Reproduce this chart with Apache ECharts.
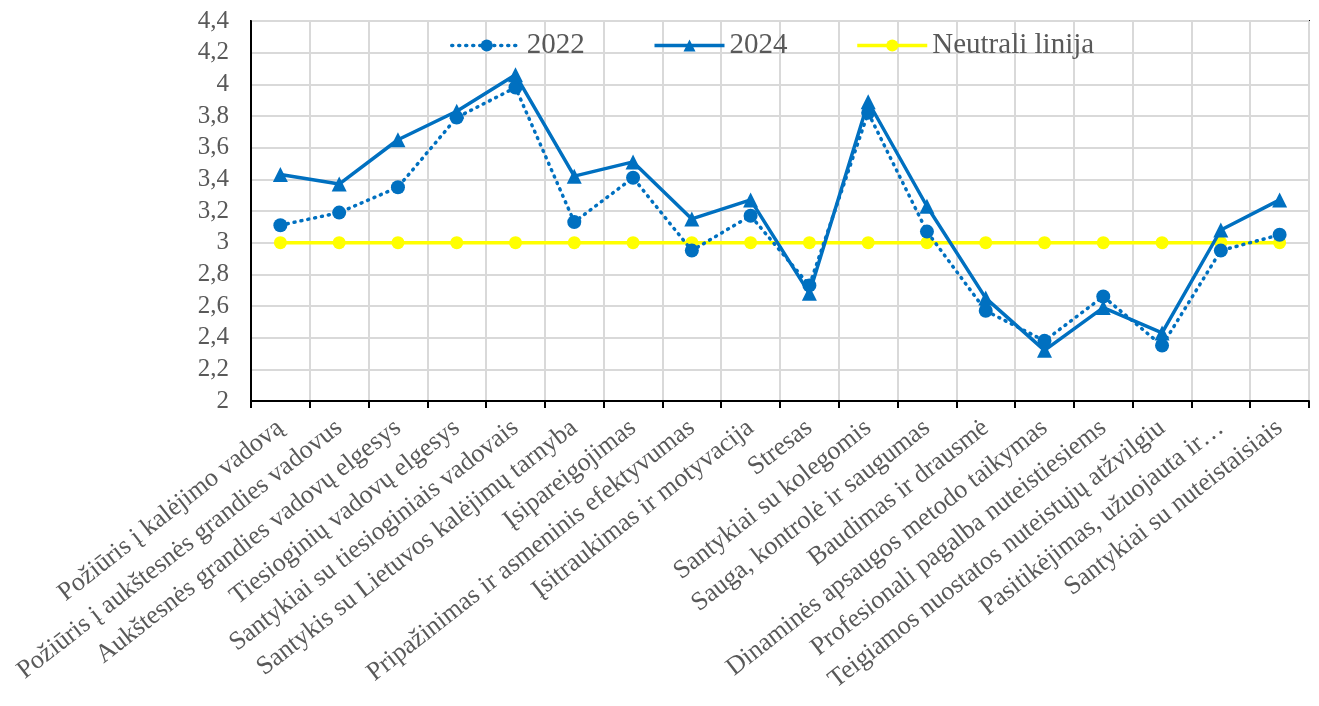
<!DOCTYPE html>
<html>
<head>
<meta charset="utf-8">
<script src="https://cdn.jsdelivr.net/npm/echarts@6/dist/echarts.min.js"></script>
<style>
  html, body { margin: 0; padding: 0; background: #fff; }
  #chart { width: 1319px; height: 706px; }
</style>
</head>
<body>
<div id="chart"></div>
<script>
const categories = [
  "Požiūris į kalėjimo vadovą",
  "Požiūris į aukštesnės grandies vadovus",
  "Aukštesnės grandies vadovų elgesys",
  "Tiesioginių vadovų elgesys",
  "Santykiai su tiesioginiais vadovais",
  "Santykis su Lietuvos kalėjimų tarnyba",
  "Įsipareigojimas",
  "Pripažinimas ir asmeninis efektyvumas",
  "Įsitraukimas ir motyvacija",
  "Stresas",
  "Santykiai su kolegomis",
  "Sauga, kontrolė ir saugumas",
  "Baudimas ir drausmė",
  "Dinaminės apsaugos metodo taikymas",
  "Profesionali pagalba nuteistiesiems",
  "Teigiamos nuostatos nuteistųjų atžvilgiu",
  "Pasitikėjimas, užuojauta ir…",
  "Santykiai su nuteistaisiais",
];

const values2022 = [3.11, 3.19, 3.35, 3.79, 3.98, 3.13, 3.41, 2.95, 3.17, 2.73, 3.82, 3.07, 2.57, 2.38, 2.66, 2.35, 2.95, 3.05];
const values2024 = [3.43, 3.37, 3.65, 3.83, 4.06, 3.42, 3.51, 3.15, 3.27, 2.68, 3.89, 3.23, 2.65, 2.32, 2.59, 2.43, 3.08, 3.27];
const neutral = categories.map(() => 3);

const font = "'Liberation Serif', 'Times New Roman', serif";
const blue = "#0070C0";
const yellow = "#FFFF00";
const textGrey = "#595959";
const gridGrey = "#d9d9d9";

const chart = echarts.init(document.getElementById("chart"));

chart.setOption({
  animation: false,
  textStyle: { fontFamily: font },
  grid: {
    left: 251, right: 10, top: 21, bottom: 305,
    show: true, borderColor: "#000", borderWidth: 2,
  },
  legend: {
    top: 26,
    left: 445,
    itemWidth: 70,
    itemHeight: 15,
    itemGap: 68,
    lineStyle: { width: 3.5 },
    textStyle: { fontFamily: font, fontSize: 29, color: textGrey },
    data: ["2022", "2024", "Neutrali linija"],
  },
  xAxis: {
    type: "category",
    data: categories,
    boundaryGap: true,
    axisLine: { lineStyle: { color: "#000", width: 2 } },
    axisTick: { show: true, inside: false, length: 7, lineStyle: { color: "#000", width: 2 } },
    splitLine: { show: true, interval: 0, lineStyle: { color: gridGrey, width: 2 } },
    axisLabel: {
      interval: 0,
      rotate: 38,
      margin: 24,
      fontFamily: font,
      fontSize: 26,
      color: textGrey,
    },
  },
  yAxis: {
    type: "value",
    min: 2,
    max: 4.4,
    interval: 0.2,
    axisLine: { show: true, lineStyle: { color: "#000", width: 2 } },
    axisTick: { show: false },
    splitLine: { lineStyle: { color: gridGrey, width: 2 } },
    axisLabel: {
      margin: 22,
      fontFamily: font,
      fontSize: 25,
      color: textGrey,
      formatter: (v) => v.toFixed(1).replace(/\.0$/, "").replace(".", ","),
    },
  },
  series: [
    {
      name: "Neutrali linija",
      type: "line",
      data: neutral,
      symbol: "circle",
      symbolSize: 13,
      z: 2,
      itemStyle: { color: yellow },
      lineStyle: { color: yellow, width: 3.5 },
    },
    {
      name: "2022",
      type: "line",
      data: values2022,
      symbol: "circle",
      symbolSize: 14,
      z: 3,
      itemStyle: { color: blue },
      lineStyle: { color: blue, width: 3.5, type: [1, 6], cap: "round" },
    },
    {
      name: "2024",
      type: "line",
      data: values2024,
      symbol: "triangle",
      symbolSize: 15,
      z: 4,
      itemStyle: { color: blue },
      lineStyle: { color: blue, width: 3.5 },
    },
  ],
});
</script>
</body>
</html>
